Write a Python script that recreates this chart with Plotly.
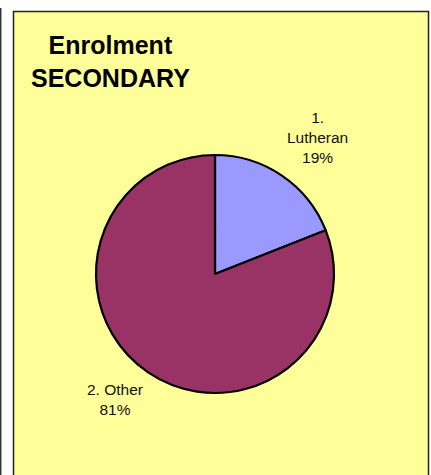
import plotly.graph_objects as go

# Data
categories = ["Lutheran", "Other"]
values = [19, 81]
label_lines = ["1.<br>Lutheran", "2. Other"]
slice_colors = ["#9999FF", "#993366"]
title_lines = ["Enrolment", "SECONDARY"]

W, H = 431, 475

def px(x):
    return x / W

def py(y):
    return 1 - y / H

cx, cy, r = 215, 274, 119

fig = go.Figure(go.Pie(
    labels=categories,
    values=values,
    sort=False,
    direction="clockwise",
    rotation=0,
    textinfo="none",
    hoverinfo="label+percent",
    marker=dict(colors=slice_colors, line=dict(color="black", width=2.2)),
    domain=dict(x=[px(cx - r), px(cx + r)], y=[py(cy + r), py(cy - r)]),
    showlegend=False,
))

total = sum(values)
pcts = [round(v * 100 / total) for v in values]
label_pos = [(317, 137.5), (115, 399.5)]
annotations = []
for lab, pct, (lx, ly) in zip(label_lines, pcts, label_pos):
    annotations.append(dict(
        x=px(lx), y=py(ly), xref="paper", yref="paper",
        text=f"{lab}<br>{pct}%", showarrow=False,
        xanchor="center", yanchor="middle", align="center",
        font=dict(family="Arial, Liberation Sans, sans-serif", size=15.5, color="#111"),
    ))

annotations.append(dict(
    x=px(111), y=py(61.5), xref="paper", yref="paper",
    text="<b>" + "<br>".join(title_lines) + "</b>", showarrow=False,
    xanchor="center", yanchor="middle", align="center",
    font=dict(family="Arial, Liberation Sans, sans-serif", size=25, color="black"),
))

shapes = [
    dict(type="rect", xref="paper", yref="paper",
         x0=px(13.5), x1=px(428.5), y0=py(490), y1=py(11.5),
         fillcolor="#FFFF99", line=dict(color="#222", width=1.5), layer="below"),
    dict(type="line", xref="paper", yref="paper",
         x0=px(0.7), x1=px(0.7), y0=py(8), y1=py(490),
         line=dict(color="#333", width=1.5)),
]

fig.update_layout(
    width=W, height=H,
    margin=dict(l=0, r=0, t=0, b=0),
    paper_bgcolor="white",
    plot_bgcolor="white",
    shapes=shapes,
    annotations=annotations,
)

fig.write_html(
    "out.html",
    config={"displayModeBar": False},
    post_script="document.body.style.margin='0';document.body.style.overflow='hidden';",
)
